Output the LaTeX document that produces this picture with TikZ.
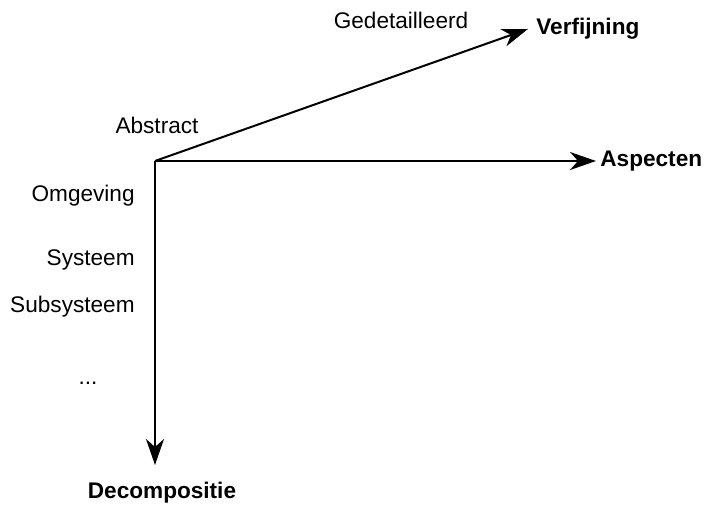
\documentclass[tikz,border=0pt]{standalone}
\usepackage{fontspec}
\setmainfont{Liberation Sans}
\usetikzlibrary{arrows.meta}
\tikzset{
  axis/.style={line width=1pt,-{Stealth[length=13pt,width=9pt,inset=4pt]}},
  lbl/.style={font=\fontsize{11.3}{14}\selectfont,inner sep=0pt},
  axlbl/.style={lbl,font=\fontsize{11.3}{14}\selectfont\bfseries}
}
\begin{document}
\begin{tikzpicture}[x=0.5pt,y=-0.5pt]
  \useasboundingbox (0,0) rectangle (705,506);
  \coordinate (o) at (155,161);
  % axis labels
  \node[axlbl,anchor=west] (verf) at (536,29) {Verfijning};
  \node[axlbl,anchor=west] (asp) at (600,161) {Aspecten};
  \node[axlbl] (dec) at (162,493) {Decompositie};
  % axes
  \draw[axis] (o) -- ([xshift=-4pt]verf.west);
  \draw[axis] (o) -- ([xshift=-2pt]asp.west);
  \draw[axis] (o) -- (o |- 0,465);
  % levels
  \node[lbl] (gedet) at (401,20) {Gedetailleerd};
  \node[lbl] (abstr) at (157,125) {Abstract};
  \node[lbl,anchor=east] (omg) at (135,196) {Omgeving};
  \node[lbl,anchor=east] (sys) at (135,260) {Systeem};
  \node[lbl,anchor=east] (subsys) at (135,307) {Subsysteem};
  \node[lbl] (dots) at (88,383) {...};
\end{tikzpicture}
\end{document}
